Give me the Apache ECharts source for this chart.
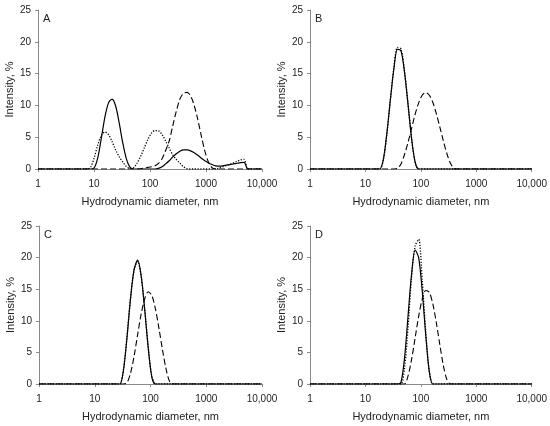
<!DOCTYPE html>
<html>
<head>
<meta charset="utf-8">
<script src="https://cdn.jsdelivr.net/npm/echarts@6/dist/echarts.min.js"></script>
<style>
  html, body { margin: 0; padding: 0; background: #fff; }
  #chart { width: 550px; height: 426px; }
</style>
</head>
<body>
<div id="chart"></div>
<script>
// size bins, nm (log spaced, as exported by the DLS instrument)
var sizes = [1, 1.117, 1.294, 1.499, 1.736, 2.010, 2.328, 2.696, 3.122, 3.615,
    4.187, 4.849, 5.615, 6.503, 7.531, 8.721, 10.10, 11.70, 13.54, 15.69,
    18.17, 21.04, 24.36, 28.21, 32.67, 37.84, 43.82, 50.75, 58.77, 68.06,
    78.82, 91.28, 105.7, 122.4, 141.8, 164.2, 190.1, 220.2, 255.0, 295.3,
    342.0, 396.1, 458.7, 531.2, 615.1, 712.4, 825.0, 955.4, 1106, 1281,
    1484, 1718, 1990, 2305, 2669, 3091, 3580, 4145, 4801, 5560,
    6439, 7456, 8635, 10000];

var xTickLabels = ['1', '10', '100', '1000', '10,000'];
var panelLetters = ['A', 'B', 'C', 'D'];

// intensity, % (one value per size bin)
var aSolid = [0,0,0,0,0,0,0,0,0,0, 0,0,0,0,0,0,0.2,1.8,4.9,8.2,
    10.4,11.0,9.9,7.2,4.1,1.6,0.3,0,0,0, 0,0,0,0,0.1,0.35,0.8,1.3,1.9,2.4,
    2.8,3.0,3.0,2.85,2.55,2.15,1.7,1.3,0.95,0.7, 0.5,0.45,0.5,0.6,0.7,0.8,0.9,1.0,1.05,0,
    0,0,0,0];
var aDotted = [0,0,0,0,0,0,0,0,0,0, 0,0,0,0,0,0.3,1.8,3.8,5.3,5.8,
    5.4,4.3,3.0,1.9,1.1,0.4,0.1,0.2,0.9,2.0, 3.3,4.6,5.6,6.05,6.0,5.4,4.4,3.3,2.2,1.5,
    0.9,0.35,0.05,0,0,0,0,0,0,0, 0,0.15,0.35,0.55,0.75,0.95,1.2,1.45,1.5,0,
    0,0,0,0];
var aDashed = [0,0,0,0,0,0,0,0,0,0, 0,0,0,0,0,0,0,0,0,0,
    0,0,0,0,0,0,0,0,0,0.05, 0.15,0.25,0.35,0.5,0.9,1.6,2.9,4.4,6.8,9.1,
    11.0,11.9,12.05,11.5,10.0,7.8,5.2,2.8,1.1,0.2, 0,0,0,0,0,0,0,0,0,0,
    0,0,0,0];

var bSolid = [0,0,0,0,0,0,0,0,0,0, 0,0,0,0,0,0,0,0,0,0,
    0,1.5,5.6,10.9,15.8,18.8,18.6,15.2,10.1,4.8, 1.1,0,0,0,0,0,0,0,0,0,
    0,0,0,0,0,0,0,0,0,0, 0,0,0,0,0,0,0,0,0,0,
    0,0,0,0];
var bDotted = [0,0,0,0,0,0,0,0,0,0, 0,0,0,0,0,0,0,0,0,0,
    0,1.4,5.5,10.9,16.0,19.1,18.9,15.4,10.2,4.8, 1.0,0,0,0,0,0,0,0,0,0,
    0,0,0,0,0,0,0,0,0,0, 0,0,0,0,0,0,0,0,0,0,
    0,0,0,0];
var bDashed = [0,0,0,0,0,0,0,0,0,0, 0,0,0,0,0,0,0,0,0,0,
    0,0,0,0,0,0.1,0.8,2.3,4.2,6.4, 8.6,10.4,11.6,12.0,11.6,10.5,8.7,6.6,4.4,2.4,
    0.9,0.1,0,0,0,0,0,0,0,0, 0,0,0,0,0,0,0,0,0,0,
    0,0,0,0];

var cSolid = [0,0,0,0,0,0,0,0,0,0, 0,0,0,0,0,0,0,0,0,0,
    0,0,0,0,2.1,7.3,13.5,18.1,19.6,17.1, 11.7,5.6,1.1,0,0,0,0,0,0,0,
    0,0,0,0,0,0,0,0,0,0, 0,0,0,0,0,0,0,0,0,0,
    0,0,0,0];
var cDotted = [0,0,0,0,0,0,0,0,0,0, 0,0,0,0,0,0,0,0,0,0,
    0,0,0,0,2.3,7.5,13.6,18.0,19.4,17.0, 11.8,5.8,1.2,0,0,0,0,0,0,0,
    0,0,0,0,0,0,0,0,0,0, 0,0,0,0,0,0,0,0,0,0,
    0,0,0,0];
var cDashed = [0,0,0,0,0,0,0,0,0,0, 0,0,0,0,0,0,0,0,0,0,
    0,0,0,0,0,0.2,1.7,4.4,7.8,11.1, 13.5,14.6,14.0,11.9,8.8,5.4,2.4,0.4,0,0,
    0,0,0,0,0,0,0,0,0,0, 0,0,0,0,0,0,0,0,0,0,
    0,0,0,0];

var dSolid = [0,0,0,0,0,0,0,0,0,0, 0,0,0,0,0,0,0,0,0,0,
    0,0,0,0,0,0,0.3,4.1,10.8,17.4, 21.2,20.0,14.8,7.8,2.0,0,0,0,0,0,
    0,0,0,0,0,0,0,0,0,0, 0,0,0,0,0,0,0,0,0,0,
    0,0,0,0];
var dDotted = [0,0,0,0,0,0,0,0,0,0, 0,0,0,0,0,0,0,0,0,0,
    0,0,0,0,0,0,0,2.5,9.0,17.0, 21.8,22.9,16.5,8.3,2.1,0,0,0,0,0,
    0,0,0,0,0,0,0,0,0,0, 0,0,0,0,0,0,0,0,0,0,
    0,0,0,0];
var dDashed = [0,0,0,0,0,0,0,0,0,0, 0,0,0,0,0,0,0,0,0,0,
    0,0,0,0,0,0,0,0,1.3,3.9, 7.3,10.7,13.4,14.8,14.5,12.7,9.7,6.2,2.9,0.7,
    0,0,0,0,0,0,0,0,0,0, 0,0,0,0,0,0,0,0,0,0,
    0,0,0,0];

var panelData = [
    [aSolid, aDotted, aDashed],
    [bSolid, bDotted, bDashed],
    [cSolid, cDotted, cDashed],
    [dSolid, dDotted, dDashed]
];

var grids = [
    {left: 38, top: 10, width: 224, height: 159},
    {left: 310, top: 10, width: 222, height: 159},
    {left: 39, top: 226, width: 223, height: 158},
    {left: 310, top: 226, width: 222, height: 158}
];

var FONT = 'Liberation Sans';
var axisColor = '#8a8a8a';
var textColor = '#222';

function pairs(vals) {
    var out = [];
    for (var i = 0; i < sizes.length; i++) {
        out.push([sizes[i], vals[i]]);
    }
    return out;
}

var lineStyles = [
    {type: 'solid', width: 1.2},
    {type: [1.2, 1.6], width: 1.3},
    {type: [6, 3], width: 1.1}
];

var xAxes = [], yAxes = [], series = [], graphics = [];
for (var p = 0; p < 4; p++) {
    xAxes.push({
        type: 'log', logBase: 10, min: 1, max: 10000, gridIndex: p,
        name: 'Hydrodynamic diameter, nm', nameLocation: 'middle', nameGap: 27,
        nameTextStyle: {fontFamily: FONT, fontSize: 11, color: textColor},
        axisLine: {lineStyle: {color: axisColor, width: 1}},
        axisTick: {show: true, length: 3, lineStyle: {color: axisColor}},
        minorTick: {show: false},
        splitLine: {show: false},
        axisLabel: {
            fontFamily: FONT, fontSize: 10, color: textColor, margin: 10,
            formatter: function (v) { return xTickLabels[Math.round(Math.log10(v))]; }
        }
    });
    yAxes.push({
        type: 'value', min: 0, max: 25, interval: 5, gridIndex: p,
        name: 'Intensity, %', nameLocation: 'middle', nameGap: 23,
        nameTextStyle: {fontFamily: FONT, fontSize: 11, color: textColor},
        axisLine: {show: true, lineStyle: {color: axisColor, width: 1}},
        axisTick: {show: true, length: 3, lineStyle: {color: axisColor}},
        splitLine: {show: false},
        axisLabel: {fontFamily: FONT, fontSize: 10, color: textColor, margin: 7}
    });
    for (var s = 0; s < 3; s++) {
        series.push({
            type: 'line', xAxisIndex: p, yAxisIndex: p,
            data: pairs(panelData[p][s]),
            showSymbol: false, smooth: 0.3, silent: true,
            lineStyle: {color: '#000', width: lineStyles[s].width, type: lineStyles[s].type},
            z: 3 - s
        });
    }
    graphics.push({
        type: 'text', left: grids[p].left + 5, top: grids[p].top + 3,
        style: {text: panelLetters[p], font: '11px ' + FONT, fill: textColor}
    });
}

var chart = echarts.init(document.getElementById('chart'));
chart.setOption({
    backgroundColor: '#fff',
    animation: false,
    grid: grids,
    xAxis: xAxes,
    yAxis: yAxes,
    series: series,
    graphic: graphics
});
</script>
</body>
</html>
